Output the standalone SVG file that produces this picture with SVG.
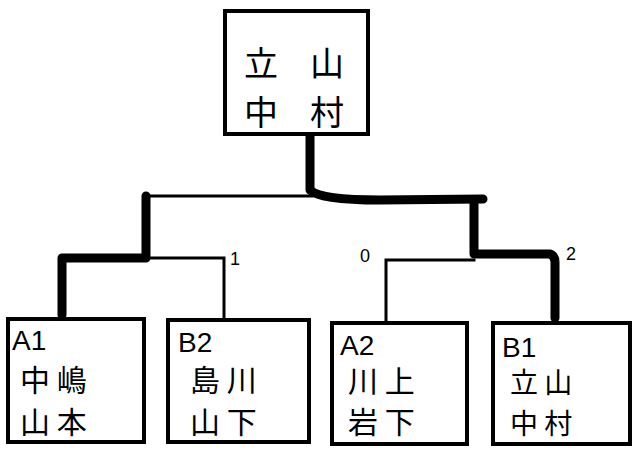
<svg xmlns="http://www.w3.org/2000/svg" width="636" height="451" viewBox="0 0 636 451">
<style>
.box{fill:#fff;stroke:#000;stroke-width:4}
.thin{fill:none;stroke:#000;stroke-width:3;stroke-linecap:square}
.thick{fill:none;stroke:#000;stroke-width:9;stroke-linecap:round;stroke-linejoin:round}
.t{font-family:"Noto Sans CJK JP","Liberation Sans",sans-serif;fill:#000}
.lab{font-family:"Liberation Sans",sans-serif;fill:#000;font-size:28px}
.sc{font-family:"Liberation Sans",sans-serif;fill:#000;font-size:18px}
</style>
<rect width="636" height="451" fill="#fff"/>
<g id="connectors">
<path class="thin" d="M145,196 H312"/>
<path class="thin" d="M147,258 H224 V318"/>
<path class="thin" d="M386,320 V260 H474"/>
<path class="thick" d="M310,136 V190 Q320,200 380,200 L483,199"/>
<path class="thick" d="M146,196 V258 H62 V315"/>
<path class="thick" d="M474,200 V254 H550 Q555,256 555,262 V318"/>
</g>
<g id="scores">
<text class="sc" x="230" y="265">1</text>
<text class="sc" x="360" y="262">0</text>
<text class="sc" x="566" y="260">2</text>
</g>
<g id="winner">
<rect class="box" x="225" y="11" width="143" height="123"/>
<text class="t" x="244" y="76" font-size="34" textLength="100" lengthAdjust="spacing">立 山</text>
<text class="t" x="244" y="125" font-size="34" textLength="100" lengthAdjust="spacing">中 村</text>
</g>
<g id="A1">
<rect class="box" x="8" y="319" width="136" height="123"/>
<text class="lab" x="12" y="350">A1</text>
<text class="t" x="20" y="391" font-size="30">中 嶋</text>
<text class="t" x="20" y="433" font-size="30">山 本</text>
</g>
<g id="B2">
<rect class="box" x="168" y="320" width="141" height="122"/>
<text class="lab" x="178" y="352">B2</text>
<text class="t" x="190" y="391" font-size="30">島 川</text>
<text class="t" x="190" y="433" font-size="30">山 下</text>
</g>
<g id="A2">
<rect class="box" x="332" y="323" width="135" height="121"/>
<text class="lab" x="340" y="355">A2</text>
<text class="t" x="348" y="392" font-size="30">川 上</text>
<text class="t" x="348" y="433" font-size="30">岩 下</text>
</g>
<g id="B1">
<rect class="box" x="493" y="323" width="137" height="121"/>
<text class="lab" x="502" y="357">B1</text>
<text class="t" x="510" y="393" font-size="28">立 山</text>
<text class="t" x="510" y="434" font-size="28">中 村</text>
</g>
</svg>
